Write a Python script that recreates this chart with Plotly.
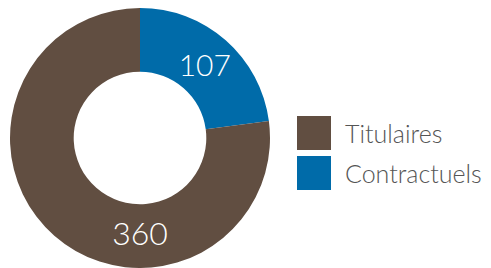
import plotly.graph_objects as go

categories = ["Titulaires", "Contractuels"]
values = [360, 107]
colors = ["#614E41", "#006BA9"]

W, H = 491, 268
fig = go.Figure()
fig.add_trace(go.Pie(
    labels=categories[::-1],
    values=values[::-1],
    hole=0.51,
    sort=False,
    direction="clockwise",
    rotation=0,
    marker=dict(colors=colors[::-1], line=dict(width=0)),
    textinfo="value",
    textposition="inside",
    insidetextorientation="horizontal",
    insidetextfont=dict(color="white", size=32, family="Lato", weight=300),
    showlegend=False,
    domain=dict(x=[10 / W, 270 / W], y=[0, 260 / H]),
))

# Custom legend
lx0 = 297
for i, (cat, col) in enumerate(zip(categories, colors)):
    top = 116 + i * 40
    fig.add_shape(type="rect", xref="paper", yref="paper",
                  x0=lx0 / W, x1=(lx0 + 34) / W,
                  y0=1 - (top + 34) / H, y1=1 - top / H,
                  fillcolor=col, line=dict(width=0))
    fig.add_annotation(xref="paper", yref="paper", x=343 / W, y=1 - (top + 17) / H,
                       text=cat, showarrow=False, xanchor="left", yanchor="middle",
                       font=dict(size=25, color="#555555", family="Lato", weight=300))

fig.update_layout(width=W, height=H, margin=dict(l=0, r=0, t=0, b=0),
                  paper_bgcolor="white", plot_bgcolor="white")
fig.write_html("out.html", config={"displayModeBar": False},
               post_script="document.body.style.margin='0';")
